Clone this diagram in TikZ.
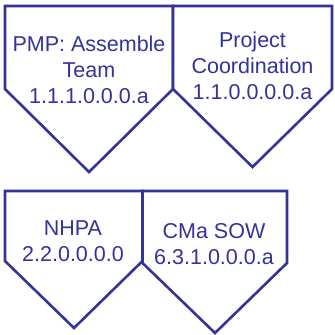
\documentclass[tikz,border=0pt]{standalone}
\usepackage{fontspec}
\setmainfont{Liberation Sans}
\definecolor{navy}{HTML}{333399}
\begin{document}
\begin{tikzpicture}[x=1pt,y=-1pt,
  shapeline/.style={draw=navy,line width=2.6pt,line join=miter,fill=white},
  label/.style={text=navy,align=center,font=\fontsize{21.5}{26}\selectfont,inner sep=0pt}]
\useasboundingbox (0,0) rectangle (335,335);
\draw[shapeline] (5,6) -- (173,6) -- (173,89) -- (89,172) -- (5,89) -- cycle;
\draw[shapeline] (173,6) -- (332,6) -- (332,89) -- (252.5,167) -- (173,89) -- cycle;
\draw[shapeline] (5,191) -- (142.5,191) -- (142.5,261) -- (74,328) -- (5,261) -- cycle;
\draw[shapeline] (142.5,191) -- (287,191) -- (287,263) -- (215,333) -- (142.5,263) -- cycle;
\node[label] (t1) at (89,70) {PMP: Assemble\\Team\\1.1.1.0.0.0.a};
\node[label] (t2) at (252.5,66) {Project\\Coordination\\1.1.0.0.0.0.a};
\node[label] (t3) at (73,241) {NHPA\\2.2.0.0.0.0};
\node[label] (t4) at (214,244) {CMa SOW\\6.3.1.0.0.0.a};
\end{tikzpicture}
\end{document}
